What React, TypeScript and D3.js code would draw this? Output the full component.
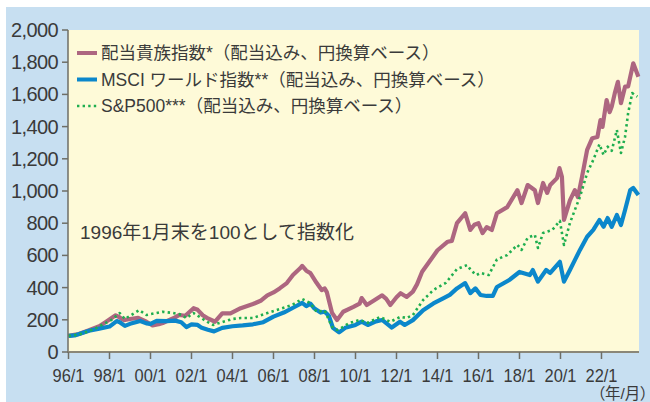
import React from 'react';
import * as d3 from 'd3';

// decimal year, index value (1996/1 = 100)
const aristocrats: [number, number][] = [
  [1996.0, 100], [1996.5, 112], [1997.0, 135], [1997.5, 160], [1997.8, 185], [1998.3, 228],
  [1998.5, 215], [1998.7, 198], [1999.0, 205], [1999.4, 212], [1999.8, 188], [2000.1, 165],
  [2000.4, 172], [2000.6, 180], [2000.9, 198], [2001.2, 215], [2001.4, 230], [2001.7, 225],
  [2002.1, 272], [2002.3, 262], [2002.55, 228], [2002.75, 212], [2003.15, 188], [2003.5, 240],
  [2003.9, 240], [2004.4, 272], [2005.0, 298], [2005.4, 320], [2005.7, 352], [2006.0, 370],
  [2006.3, 395], [2006.65, 428], [2006.95, 478], [2007.3, 520], [2007.4, 535], [2007.6, 505],
  [2007.8, 490], [2008.1, 430], [2008.35, 385], [2008.5, 395], [2008.6, 372], [2008.85, 245],
  [2009.1, 198], [2009.4, 250], [2009.9, 280], [2010.2, 300], [2010.3, 335], [2010.55, 292],
  [2010.9, 320], [2011.3, 352], [2011.5, 330], [2011.7, 292], [2012.0, 340], [2012.2, 365],
  [2012.5, 342], [2012.8, 375], [2013.0, 420], [2013.25, 498], [2013.6, 560], [2014.0, 632],
  [2014.5, 685], [2014.7, 690], [2014.95, 800], [2015.35, 862], [2015.6, 758], [2015.8, 790],
  [2016.0, 800], [2016.2, 738], [2016.4, 775], [2016.65, 758], [2016.9, 862], [2017.4, 900],
  [2017.9, 1005], [2018.1, 925], [2018.4, 1037], [2018.75, 1005], [2018.9, 925], [2019.15, 1050],
  [2019.35, 988], [2019.5, 1037], [2019.83, 1080], [2019.95, 1142], [2020.07, 1088], [2020.17, 820],
  [2020.46, 942], [2020.7, 1005], [2020.85, 962], [2021.05, 1088], [2021.3, 1255], [2021.55, 1328],
  [2021.8, 1335], [2021.95, 1440], [2022.05, 1398], [2022.25, 1565], [2022.4, 1490], [2022.5, 1524],
  [2022.65, 1608], [2022.8, 1678], [2022.95, 1545], [2023.15, 1648], [2023.3, 1650], [2023.55, 1793],
  [2023.8, 1710],
];

const msciWorld: [number, number][] = [
  [1996.0, 100], [1996.3, 103], [1996.6, 115], [1997.0, 132], [1997.5, 145], [1998.0, 158],
  [1998.35, 192], [1998.5, 185], [1998.75, 162], [1999.0, 175], [1999.5, 193], [1999.8, 178],
  [2000.0, 175], [2000.3, 193], [2000.8, 192], [2001.2, 195], [2001.5, 185], [2001.75, 155],
  [2002.0, 172], [2002.3, 168], [2002.5, 150], [2002.8, 138], [2003.1, 128], [2003.5, 150],
  [2004.0, 160], [2004.5, 165], [2005.0, 172], [2005.5, 185], [2006.0, 220], [2006.5, 245],
  [2007.0, 278], [2007.4, 305], [2007.6, 285], [2007.8, 300], [2008.0, 270], [2008.3, 245],
  [2008.5, 250], [2008.7, 225], [2008.9, 150], [2009.2, 122], [2009.5, 150], [2010.0, 168],
  [2010.3, 188], [2010.6, 168], [2011.0, 190], [2011.3, 199], [2011.77, 152], [2012.17, 188],
  [2012.4, 168], [2012.8, 198], [2013.3, 260], [2013.8, 302], [2014.3, 335], [2014.6, 355],
  [2014.95, 395], [2015.35, 428], [2015.6, 366], [2015.85, 395], [2016.1, 354], [2016.4, 348],
  [2016.7, 348], [2016.9, 404], [2017.5, 447], [2018.0, 497], [2018.5, 478], [2018.65, 509],
  [2018.9, 437], [2019.3, 509], [2019.5, 491], [2019.97, 560], [2020.17, 437], [2020.46, 509],
  [2020.7, 571], [2020.95, 634], [2021.3, 716], [2021.6, 758], [2021.9, 820], [2022.1, 778],
  [2022.3, 832], [2022.5, 778], [2022.75, 851], [2022.95, 789], [2023.15, 882], [2023.4, 1005],
  [2023.55, 1019], [2023.8, 975],
];

const sp500: [number, number][] = [
  [1996.0, 100], [1996.5, 108], [1997.0, 130], [1997.35, 149], [1997.8, 180], [1998.1, 200],
  [1998.5, 242], [1998.75, 205], [1999.0, 225], [1999.45, 260], [1999.8, 230], [2000.2, 240],
  [2000.6, 250], [2001.1, 242], [2001.5, 232], [2001.75, 211], [2002.1, 242], [2002.55, 205],
  [2002.8, 185], [2003.05, 168], [2003.55, 188], [2004.0, 205], [2004.4, 211], [2005.0, 211],
  [2005.7, 242], [2006.3, 267], [2006.9, 292], [2007.4, 329], [2007.8, 304], [2008.1, 250],
  [2008.5, 257], [2008.85, 157], [2009.1, 137], [2009.3, 149], [2009.7, 180], [2010.2, 199],
  [2010.6, 182], [2011.2, 217], [2011.7, 188], [2012.2, 219], [2012.5, 211], [2012.8, 230],
  [2013.3, 323], [2013.8, 385], [2014.4, 429], [2014.6, 460], [2014.95, 515], [2015.45, 540],
  [2015.65, 505], [2015.9, 478], [2016.1, 491], [2016.5, 478], [2016.9, 575], [2017.4, 602],
  [2017.9, 665], [2018.1, 634], [2018.4, 710], [2018.75, 727], [2018.9, 646], [2019.15, 739],
  [2019.6, 758], [2019.97, 815], [2020.17, 665], [2020.46, 801], [2020.7, 882], [2020.95, 964],
  [2021.3, 1112], [2021.6, 1193], [2021.9, 1290], [2022.1, 1224], [2022.3, 1275], [2022.5, 1250],
  [2022.75, 1379], [2022.95, 1236], [2023.15, 1337], [2023.3, 1484], [2023.5, 1608], [2023.75, 1586],
];

const yTicks = [0, 200, 400, 600, 800, 1000, 1200, 1400, 1600, 1800, 2000];
const xTicks = [1996, 1998, 2000, 2002, 2004, 2006, 2008, 2010, 2012, 2014, 2016, 2018, 2020, 2022];
const xTickLabels = ['96/1', '98/1', '00/1', '02/1', '04/1', '06/1', '08/1', '10/1', '12/1', '14/1', '16/1', '18/1', '20/1', '22/1'];

const legendLabels = [
  '配当貴族指数*（配当込み、円換算ベース）',
  'MSCI ワールド指数**（配当込み、円換算ベース）',
  'S&P500***（配当込み、円換算ベース）',
];

const COLORS = { aristocrats: '#ad6680', msci: '#0b87cb', sp: '#1fae4f' };
const FONT = '"Liberation Sans", "Noto Sans CJK JP", sans-serif';
const TEXT = '#3a3a3a';

const App = () => {
  const x = d3.scaleLinear().domain([1996, 2023.83]).range([68.5, 639]);
  const y = d3.scaleLinear().domain([0, 2000]).range([352, 30]);

  const line = d3.line<[number, number]>()
    .x(d => x(d[0]))
    .y(d => y(d[1]));

  const series = [
    { data: aristocrats, color: COLORS.aristocrats, width: 4.2, dash: null },
    { data: msciWorld, color: COLORS.msci, width: 4.2, dash: null },
    { data: sp500, color: COLORS.sp, width: 2.6, dash: '2.4 3.2' },
  ];

  return (
    <svg width={650} height={402} style={{ position: 'absolute', left: 0, top: 0 }}>
      <rect x={6} y={7} width={644} height={395} fill="#c7dff1" />
      <rect x={68} y={30} width={571} height={322} fill="#fefad8" />

      {/* lines */}
      {series.map((s, i) => (
        <path key={i} d={line(s.data) || ''} fill="none" stroke={s.color}
          strokeWidth={s.width} strokeLinejoin="round"
          strokeDasharray={s.dash || undefined} />
      ))}

      {/* axes */}
      <line x1={68} x2={68} y1={30} y2={352} stroke="#6e6e66" strokeWidth={1.5} />
      <line x1={67} x2={639} y1={352} y2={352} stroke="#8a8778" strokeWidth={2} />
      {yTicks.map(t => (
        <g key={t}>
          <line x1={62} x2={68} y1={y(t)} y2={y(t)} stroke="#6e6e66" strokeWidth={1.5} />
          <text x={58} y={y(t) + 7} textAnchor="end" fontSize={20} letterSpacing={-0.6}
            fontFamily={FONT} fill={TEXT}>{d3.format(',')(t)}</text>
        </g>
      ))}
      {xTicks.map((t, i) => (
        <g key={t}>
          <line x1={x(t)} x2={x(t)} y1={352} y2={359} stroke="#6e6e66" strokeWidth={1.5} />
          <text x={x(t)} y={382} textAnchor="middle" fontSize={19}
            textLength={32} lengthAdjust="spacingAndGlyphs"
            fontFamily={FONT} fill={TEXT}>{xTickLabels[i]}</text>
        </g>
      ))}
      <text x={648} y={399} textAnchor="end" fontSize={15.5} fontFamily={FONT} fill={TEXT}
        style={{ fontFeatureSettings: '"palt"' }}>（年/月）</text>

      {/* legend */}
      {series.map((s, i) => {
        const ly = [53, 79.5, 106][i];
        return (
          <g key={i}>
            <line x1={77} x2={97} y1={ly} y2={ly} stroke={s.color}
              strokeWidth={s.dash ? 2.6 : 4} strokeDasharray={s.dash || undefined} />
            <text x={101} y={ly + 6} fontSize={17.5} fontFamily={FONT} fill={TEXT}>{legendLabels[i]}</text>
          </g>
        );
      })}

      <text x={80} y={239} fontSize={19} fontFamily={FONT} fill={TEXT}>1996年1月末を100として指数化</text>
    </svg>
  );
};

export default App;
